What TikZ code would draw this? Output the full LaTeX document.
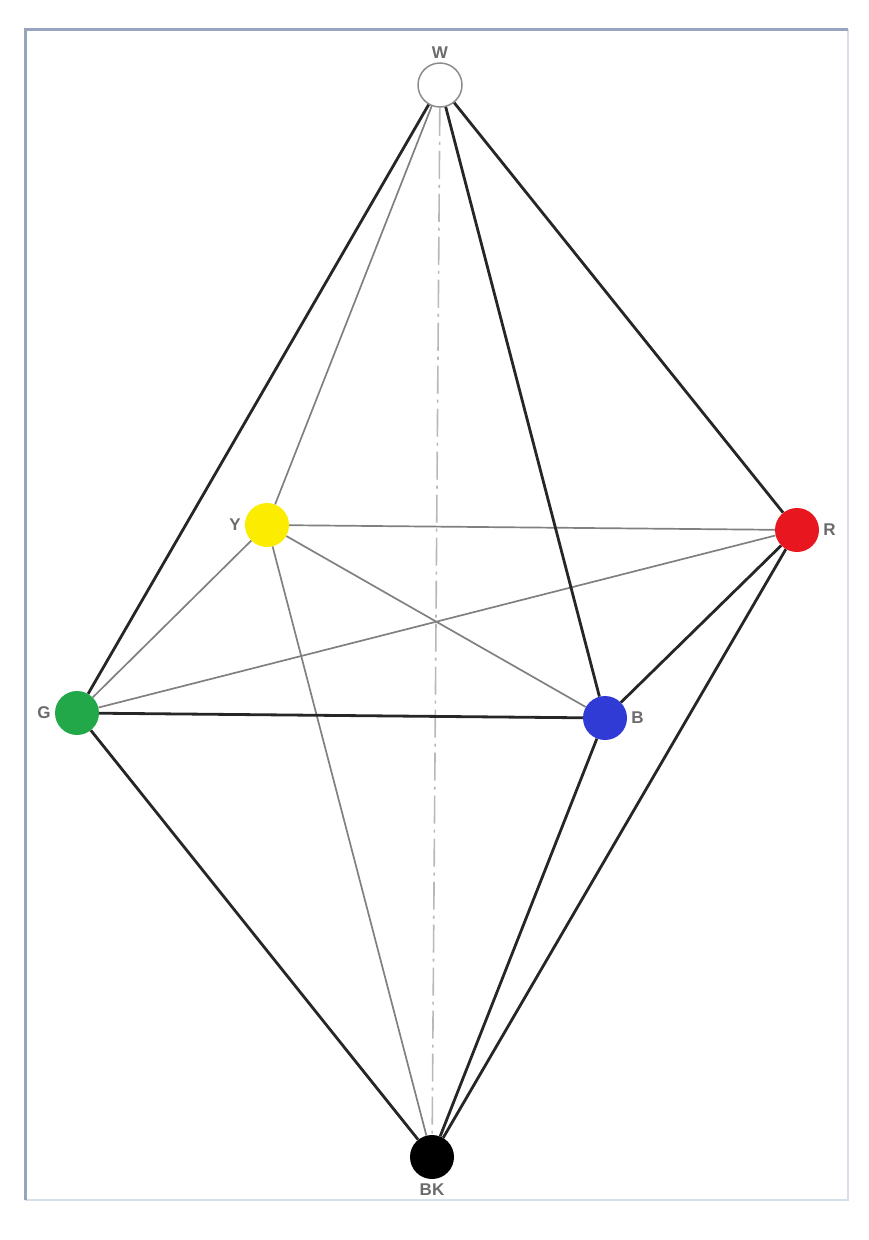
\documentclass[tikz,border=0pt]{standalone}
\usepackage{fontspec}
\setmainfont{Liberation Sans}
\usetikzlibrary{positioning}

\definecolor{yellowdot}{RGB}{252,236,0}
\definecolor{reddot}{RGB}{232,22,30}
\definecolor{greendot}{RGB}{34,168,72}
\definecolor{bluedot}{RGB}{48,58,212}
\definecolor{framedark}{RGB}{150,164,190}
\definecolor{framelight}{RGB}{214,224,236}

\begin{document}
\begin{tikzpicture}[
	x=1pt, y=-1pt,
	dot/.style = {circle, inner sep=0pt, minimum size=44pt},
	edge/.style = {line width=2.8pt, black!85},
	thinedge/.style = {line width=1.7pt, black!50},
	axis/.style = {line width=1.6pt, black!28,
		dash pattern=on 28pt off 6pt on 3pt off 6pt},
	every label/.style = {font=\fontsize{17}{19}\selectfont\bfseries, text=black!58, inner sep=0pt},
	label distance=4pt,
	]
	\useasboundingbox (0,0) rectangle (868,1240);
	
	% frame round the picture
	\draw[line width=2pt, framelight] (848,29) |- (25,1200);
	\draw[line width=3pt, framedark] (25,1200) |- (848,29);
	
	\node[dot, draw=black!45, line width=1.5pt, fill=white, label=above:W] (W) at (440,85) {};
	\node[dot, fill=yellowdot, label=left:Y] (Y) at (267,525) {};
	\node[dot, fill=reddot, label=right:R] (R) at (797,530) {};
	\node[dot, fill=greendot, label=left:G] (G) at (77,713) {};
	\node[dot, fill=bluedot, label=right:B] (B) at (605,718) {};
	\node[dot, fill=black, label=below:BK] (BK) at (432,1157) {};
	
	\draw[axis] (W) -- (BK);   % <--- the grey axis
	
	\draw[thinedge] (W) -- (Y);
	\draw[thinedge] (Y) -- (R);
	\draw[thinedge] (Y) -- (G);
	\draw[thinedge] (Y) -- (B);
	\draw[thinedge] (Y) -- (BK);
	\draw[thinedge] (G) -- (R);
	
	\draw[edge] (W) -- (G);
	\draw[edge] (W) -- (R);
	\draw[edge] (W) -- (B);
	\draw[edge] (G) -- (B);
	\draw[edge] (R) -- (B);
	\draw[edge] (G) -- (BK);
	\draw[edge] (B) -- (BK);
	\draw[edge] (R) -- (BK);
\end{tikzpicture}
\end{document}
